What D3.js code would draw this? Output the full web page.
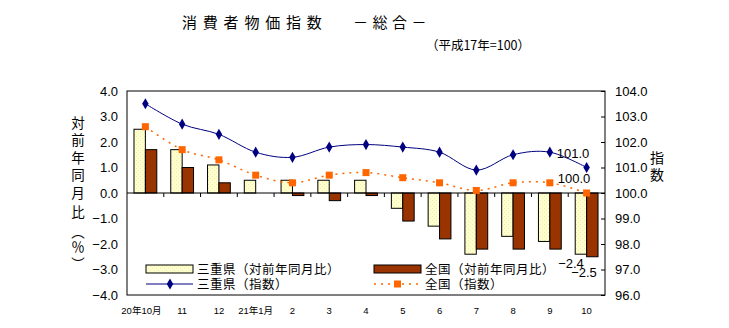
<!DOCTYPE html>
<html>
<head>
<meta charset="utf-8">
<script src="https://cdn.jsdelivr.net/npm/d3@7"></script>
<style>
  html, body { margin: 0; padding: 0; background: #fff; }
  svg { display: block; }
  text { font-family: "Liberation Sans", Arial, "Noto Sans CJK JP", sans-serif; fill: #000; }
  .jp { font-family: "Noto Sans CJK JP", sans-serif; }
</style>
</head>
<body>
<svg id="chart" width="729" height="328"></svg>
<script>
const categories = ["20年10月", "11", "12", "21年1月", "2", "3", "4", "5", "6", "7", "8", "9", "10"];
const mieYoY = [2.5, 1.7, 1.1, 0.5, 0.5, 0.5, 0.5, -0.6, -1.3, -2.4, -1.7, -1.9, -2.4];
const nationalYoY = [1.7, 1.0, 0.4, 0.0, -0.1, -0.3, -0.1, -1.1, -1.8, -2.2, -2.2, -2.2, -2.5];
const mieIndex = [103.5, 102.7, 102.3, 101.6, 101.4, 101.8, 101.9, 101.8, 101.6, 100.9, 101.5, 101.6, 101.0];
const nationalIndex = [102.6, 101.7, 101.3, 100.7, 100.4, 100.7, 100.8, 100.6, 100.4, 100.1, 100.4, 100.4, 100.0];
const leftTicks = [-4, -3, -2, -1, 0, 1, 2, 3, 4];
const rightTicks = [96, 97, 98, 99, 100, 101, 102, 103, 104];
const seriesNames = ["三重県（対前年同月比）", "全国（対前年同月比）", "三重県（指数）", "全国（指数）"];

const colors = { mieBar: "#FFFFCC", natBar: "#993300", mieLine: "#000080", natLine: "#FF6600" };

const svg = d3.select("#chart");
const plot = { left: 127, right: 605, top: 91, bottom: 295 };

// pattern for Mie bars
const defs = svg.append("defs");
const pat = defs.append("pattern").attr("id", "dots").attr("width", 4).attr("height", 4)
  .attr("patternUnits", "userSpaceOnUse");
pat.append("rect").attr("width", 4).attr("height", 4).attr("fill", colors.mieBar);
pat.append("rect").attr("x", 0).attr("y", 0).attr("width", 1).attr("height", 1).attr("fill", "#EDEDC0");
pat.append("rect").attr("x", 2).attr("y", 2).attr("width", 1).attr("height", 1).attr("fill", "#EDEDC0");

const x = d3.scaleBand().domain(categories).range([plot.left, plot.right]).padding(0);
const bw = x.bandwidth();
const x1 = d3.scaleBand().domain(["mie", "nat"]).range([bw * 0.19, bw * 0.81]).padding(0);
const yL = d3.scaleLinear().domain([-4, 4]).range([plot.bottom, plot.top]);
const yR = d3.scaleLinear().domain([96, 104]).range([plot.bottom, plot.top]);

const fmt = d => (d < 0 ? "\u2212" + Math.abs(d).toFixed(1) : d.toFixed(1));

// plot frame
svg.append("rect").attr("x", plot.left).attr("y", plot.top)
  .attr("width", plot.right - plot.left).attr("height", plot.bottom - plot.top)
  .attr("fill", "#fff").attr("stroke", "#000").attr("stroke-width", 1);

// bars
const barData = categories.map((c, i) => ({ c, mie: mieYoY[i], nat: nationalYoY[i] }));
const g = svg.append("g");
g.selectAll("rect.mie").data(barData).join("rect").attr("class", "mie")
  .attr("x", d => x(d.c) + x1("mie")).attr("width", x1.bandwidth())
  .attr("y", d => yL(Math.max(0, d.mie))).attr("height", d => Math.abs(yL(d.mie) - yL(0)))
  .attr("fill", "url(#dots)").attr("stroke", "#000").attr("stroke-width", 1)
  .style("display", d => d.mie === 0 ? "none" : null);
g.selectAll("rect.nat").data(barData).join("rect").attr("class", "nat")
  .attr("x", d => x(d.c) + x1("nat")).attr("width", x1.bandwidth())
  .attr("y", d => yL(Math.max(0, d.nat))).attr("height", d => Math.abs(yL(d.nat) - yL(0)))
  .attr("fill", colors.natBar).attr("stroke", "#000").attr("stroke-width", 1)
  .style("display", d => d.nat === 0 ? "none" : null);

// zero line and category ticks
svg.append("line").attr("x1", plot.left).attr("x2", plot.right)
  .attr("y1", yL(0)).attr("y2", yL(0)).attr("stroke", "#000");
svg.selectAll("line.ctick").data(categories.slice(1)).join("line").attr("class", "ctick")
  .attr("x1", d => x(d)).attr("x2", d => x(d))
  .attr("y1", yL(0)).attr("y2", yL(0) + 4).attr("stroke", "#000");

// left axis
const la = svg.append("g").attr("transform", `translate(${plot.left},0)`)
  .call(d3.axisLeft(yL).tickValues(leftTicks).tickSize(0).tickPadding(9).tickFormat(fmt));
la.select(".domain").remove();
la.selectAll("text").attr("font-size", 13).attr("font-family", "Liberation Sans, Arial, sans-serif");

// right axis
const ra = svg.append("g").attr("transform", `translate(${plot.right},0)`)
  .call(d3.axisRight(yR).tickValues(rightTicks).tickSizeInner(-4).tickSizeOuter(0).tickPadding(10).tickFormat(d => d.toFixed(1)));
ra.select(".domain").remove();
ra.selectAll("line").attr("stroke", "#000");
ra.selectAll("text").attr("font-size", 13).attr("font-family", "Liberation Sans, Arial, sans-serif");

// bottom category labels
const ba = svg.append("g").attr("transform", `translate(0,${plot.bottom})`)
  .call(d3.axisBottom(x).tickSize(0).tickPadding(12));
ba.select(".domain").remove();
ba.selectAll("text").attr("font-size", 9.5).attr("font-family", "Liberation Sans, Arial, 'Noto Sans CJK JP', sans-serif")
  .attr("dx", (d, i) => i === 0 ? -4 : 0);

// index lines
const curve = d3.curveCatmullRom.alpha(0);
const lineM = d3.line().x((d, i) => x(categories[i]) + bw / 2).y(d => yR(d)).curve(curve);
svg.append("path").attr("d", lineM(mieIndex)).attr("fill", "none")
  .attr("stroke", colors.mieLine).attr("stroke-width", 1);
svg.append("path").attr("d", lineM(nationalIndex)).attr("fill", "none")
  .attr("stroke", colors.natLine).attr("stroke-width", 1.5).attr("stroke-dasharray", "2,5");

const diamond = d3.symbol().type(d3.symbolDiamond).size(36);
svg.selectAll("path.dm").data(mieIndex).join("path").attr("class", "dm")
  .attr("d", diamond).attr("fill", colors.mieLine)
  .attr("transform", (d, i) => `translate(${x(categories[i]) + bw / 2},${yR(d)})`);
svg.selectAll("rect.sq").data(nationalIndex).join("rect").attr("class", "sq")
  .attr("x", (d, i) => x(categories[i]) + bw / 2 - 3.5).attr("y", d => yR(d) - 3.5)
  .attr("width", 7).attr("height", 7).attr("fill", colors.natLine);

// data labels
const last = categories.length - 1;
const lab = svg.append("g").attr("font-size", 13).attr("font-family", "Liberation Sans, Arial, sans-serif");
lab.append("text").attr("x", 573).attr("y", yR(mieIndex[last]) - 10).attr("text-anchor", "middle").text(mieIndex[last].toFixed(1));
lab.append("text").attr("x", 574).attr("y", yR(nationalIndex[last]) - 10).attr("text-anchor", "middle").text(nationalIndex[last].toFixed(1));
lab.append("text").attr("x", 571).attr("y", yL(mieYoY[last]) + 14).attr("text-anchor", "middle").text(fmt(mieYoY[last]));
lab.append("text").attr("x", 584).attr("y", yL(nationalYoY[last]) + 20).attr("text-anchor", "middle").text(fmt(nationalYoY[last]));

// legend
const lg = svg.append("g");
lg.append("rect").attr("x", 146).attr("y", 265).attr("width", 47).attr("height", 8)
  .attr("fill", "url(#dots)").attr("stroke", "#000");
lg.append("rect").attr("x", 374).attr("y", 265).attr("width", 47).attr("height", 8)
  .attr("fill", colors.natBar).attr("stroke", "#000");
lg.append("line").attr("x1", 146).attr("x2", 193).attr("y1", 284).attr("y2", 284)
  .attr("stroke", colors.mieLine);
lg.append("path").attr("d", diamond).attr("fill", colors.mieLine).attr("transform", "translate(170,284)");
lg.append("line").attr("x1", 374).attr("x2", 421).attr("y1", 284).attr("y2", 284)
  .attr("stroke", colors.natLine).attr("stroke-width", 1.5).attr("stroke-dasharray", "2,5");
lg.append("rect").attr("x", 394).attr("y", 280.5).attr("width", 7).attr("height", 7).attr("fill", colors.natLine);
const lt = [[197, 274, seriesNames[0]], [425, 274, seriesNames[1]], [197, 289, seriesNames[2]], [425, 289, seriesNames[3]]];
lg.selectAll("text").data(lt).join("text").attr("class", "jp")
  .attr("x", d => d[0]).attr("y", d => d[1]).attr("font-size", 12.5).attr("letter-spacing", 0.5).text(d => d[2]);

// axis titles
const leftTitle = ["対", "前", "年", "同", "月", "比", "︵", "％", "︶"];
const ltY = [123, 140, 158, 175, 193, 212, 232, 247, 264];
svg.append("g").selectAll("text").data(leftTitle).join("text").attr("class", "jp")
  .attr("x", 78).attr("y", (d, i) => ltY[i] + 5).attr("text-anchor", "middle")
  .attr("font-size", 13.5).text(d => d);
svg.append("g").selectAll("text").data(["指", "数"]).join("text").attr("class", "jp")
  .attr("x", 657).attr("y", (d, i) => 163 + i * 17).attr("text-anchor", "middle")
  .attr("font-size", 14).text(d => d);

// titles
svg.append("text").attr("class", "jp").attr("x", 182).attr("y", 28).attr("font-size", 15)
  .attr("letter-spacing", 5.8).text("消費者物価指数");
svg.append("text").attr("class", "jp").attr("x", 353).attr("y", 28).attr("font-size", 15)
  .attr("letter-spacing", 4.5).text("－総合－");
svg.append("text").attr("class", "jp").attr("x", 478).attr("y", 50).attr("font-size", 12.5)
  .attr("text-anchor", "middle").text("（平成17年=100）");
</script>
</body>
</html>
